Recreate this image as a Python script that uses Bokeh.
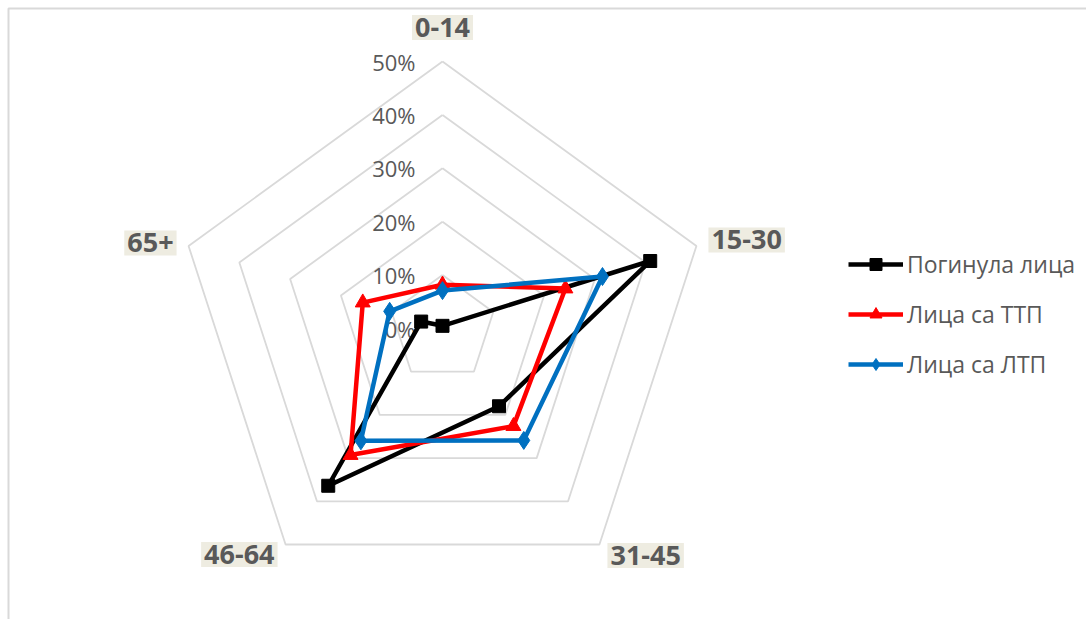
import math
from bokeh.plotting import figure
from bokeh.models import Range1d, Legend, LegendItem, ColumnDataSource
from bokeh.core.properties import value
from bokeh.embed import file_html
from bokeh.resources import INLINE

# Age groups (radar spokes, clockwise from the top)
categories = ["0-14", "15-30", "31-45", "46-64", "65+"]

# Share of persons per age group, in percent
killed = [0.5, 40.9, 18.0, 36.4, 4.2]    # Погинула лица
serious = [8.2, 24.2, 22.6, 29.3, 15.7]  # Лица са ТТП
light = [7.1, 31.5, 25.9, 26.0, 10.4]    # Лица са ЛТП

ring_values = [0, 10, 20, 30, 40, 50]
ring_labels = ["0%", "10%", "20%", "30%", "40%", "50%"]

series_names = ["Погинула лица", "Лица са ТТП", "Лица са ЛТП"]

W, H = 1086, 619
CX, CY = 442, 328          # pixel position of the radar centre
PX = 5.34                  # pixels per percentage point

FONT = "Open Sans"
TEXT = "#595959"
GRID = "#d9d9d9"

n = len(categories)
angles = [math.pi / 2 - 2 * math.pi * i / n for i in range(n)]


def polar(r, a):
    return r * math.cos(a), r * math.sin(a)


def px(x, y):
    # pixel (from top-left) -> data coordinates
    return (x - CX) / PX, (CY - y) / PX


p = figure(width=W, height=H, output_backend="svg", toolbar_location=None,
           x_range=Range1d(-CX / PX, (W - CX) / PX),
           y_range=Range1d(-(H - CY) / PX, CY / PX),
           min_border=0, outline_line_color=None)
p.axis.visible = False
p.grid.visible = False
p.background_fill_color = "white"
p.border_fill_color = "white"

# chart area frame (top and left edges)
fx0, fy0 = px(8, 8)
fx1, _ = px(1086, 8)
_, fy1 = px(8, 619)
p.line([fx1, fx0, fx0], [fy0, fy0, fy1], line_color=GRID, line_width=2)

# pentagon rings
for r in ring_values[1:]:
    xs = [polar(r, a)[0] for a in angles] + [polar(r, angles[0])[0]]
    ys = [polar(r, a)[1] for a in angles] + [polar(r, angles[0])[1]]
    p.line(xs, ys, line_color=GRID, line_width=1.8)

# ring value labels beside the top spoke
p.text(x=[-27 / PX] * len(ring_values), y=ring_values, text=ring_labels,
       text_align="right", text_baseline="middle",
       text_font=value(FONT), text_font_size="22px", text_color=TEXT)

# category labels outside the outer ring
offsets = {
    "0-14": (0, -34, "center"),
    "15-30": (12, -6, "left"),
    "31-45": (8, 11, "left"),
    "46-64": (-8, 10, "right"),
    "65+": (-12, -3, "right"),
}
lx, ly, lalign = [], [], []
for c, a in zip(categories, angles):
    vx, vy = polar(50, a)
    dx, dy, al = offsets[c]
    lx.append(vx + dx / PX)
    ly.append(vy - dy / PX)
    lalign.append(al)
for c, x, y, al in zip(categories, lx, ly, lalign):
    p.text(x=[x], y=[y], text=[c], text_align=al, text_baseline="middle",
           text_font=value(FONT), text_font_size="27px", text_font_style="bold",
           text_color=TEXT, background_fill_color="#eeece1", padding=3)

styles = [
    (killed, "#000000", "square", 13),
    (serious, "#ff0000", "triangle", 15),
    (light, "#0070c0", "diamond", 18),
]

items = []
for name, (vals, color, marker, size) in zip(series_names, styles):
    xs = [polar(v, a)[0] for v, a in zip(vals, angles)]
    ys = [polar(v, a)[1] for v, a in zip(vals, angles)]
    src = ColumnDataSource(dict(x=xs + xs[:1], y=ys + ys[:1]))
    ln = p.line("x", "y", source=src, line_color=color, line_width=4.5,
                line_join="round")
    mk = p.scatter(xs, ys, marker=marker, size=size, fill_color=color,
                   line_color=color)
    items.append(LegendItem(label=name, renderers=[ln, mk]))

legend = Legend(items=items, location=(848, 239), glyph_width=55,
                glyph_height=30, spacing=18, label_standoff=4, padding=0,
                margin=0, border_line_color=None, background_fill_alpha=0,
                label_text_font=FONT, label_text_font_size="23px",
                label_text_color=TEXT)
p.add_layout(legend)

open("out.html", "w").write(file_html(p, INLINE))
